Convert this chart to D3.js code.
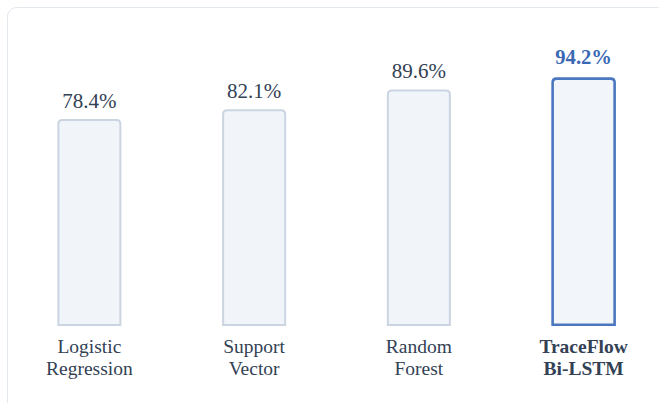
<!DOCTYPE html>
<html><head><meta charset="utf-8">
<script src="https://cdn.jsdelivr.net/npm/d3@7"></script>
<style>html,body{margin:0;padding:0;background:#fff;}svg{display:block;}</style>
</head><body>
<script>
const categories = [["Logistic","Regression"],["Support","Vector"],["Random","Forest"],["TraceFlow","Bi-LSTM"]];
const values = [78.4, 82.1, 89.6, 94.2];
const valueLabels = ["78.4%","82.1%","89.6%","94.2%"];
const highlight = [false,false,false,true];

const W = 659, H = 403;
const svg = d3.select("body").append("svg").attr("width", W).attr("height", H);

svg.append("rect").attr("x",7.5).attr("y",7.5).attr("width",720).attr("height",460)
  .attr("rx",9).attr("fill","#fff").attr("stroke","#e3e8ef").attr("stroke-width",1);

const idx = d3.range(values.length);
const x = d3.scalePoint().domain(idx).range([7, 666]).padding(0.5);
const y = d3.scaleLinear().domain([0, 100]).range([326, 62]);
const bw = 62;

function barPath(x0, y0, w, h, r){
  return `M${x0},${y0+h}V${y0+r}Q${x0},${y0} ${x0+r},${y0}H${x0+w-r}Q${x0+w},${y0} ${x0+w},${y0+r}V${y0+h}Z`;
}

const g = svg.append("g");
idx.forEach(i => {
  const hl = highlight[i];
  const sw = hl ? 2.6 : 2;
  const cx = x(i);
  const top = y(values[i]) + sw/2;
  const bottom = y(0) - sw/2;
  g.append("path")
    .attr("d", barPath(cx - bw/2, top, bw, bottom - top, 4))
    .attr("fill", hl ? "#f2f6fb" : "#f1f4f9")
    .attr("stroke", hl ? "#4a77c0" : "#cbd5e1")
    .attr("stroke-width", sw);
  g.append("text").attr("x", cx).attr("y", y(values[i]) - (hl ? 13 : 11.5))
    .attr("text-anchor","middle")
    .attr("font-family","'Liberation Serif','Times New Roman',serif")
    .attr("font-size", hl ? 20.6 : 21)
    .attr("font-weight", hl ? "bold" : "normal")
    .attr("fill", hl ? "#3a68b4" : "#334155")
    .text(valueLabels[i]);
  const t = g.append("text").attr("text-anchor","middle")
    .attr("font-family","'Liberation Serif','Times New Roman',serif")
    .attr("font-size", 19.5)
    .attr("font-weight", hl ? "bold" : "normal")
    .attr("fill", "#334155");
  categories[i].forEach((line, j) => {
    t.append("tspan").attr("x", cx).attr("y", 352.7 + j*22.6).text(line);
  });
});
</script>
</body></html>
